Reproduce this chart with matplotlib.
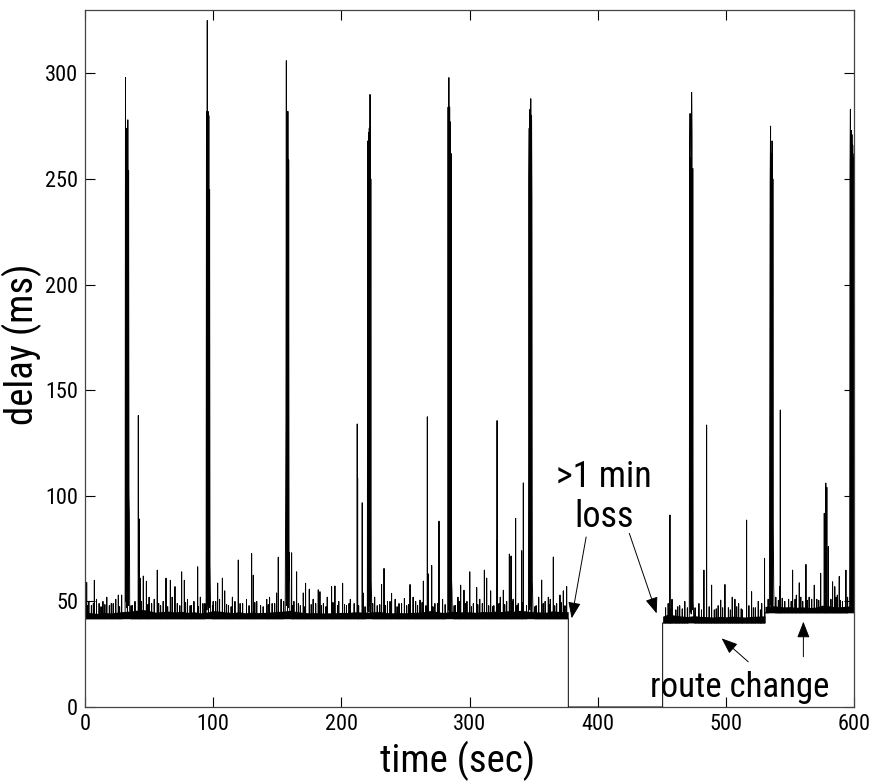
import matplotlib
matplotlib.use("Agg")
import matplotlib.pyplot as plt
import numpy as np

# ---------------- data ----------------
seg_start = [0.0, 450.7, 530.5]
seg_end = [377.1, 530.5, 600.0]
seg_base = [41.8, 39.8, 44.6]

# big periodic delay bursts
burst_start = [31.3, 94.5, 156.2, 220.3, 283.0, 346.0, 471.5, 534.0, 596.6]
burst_offsets = [0.0, 0.3, 0.6, 0.9, 1.2, 1.5, 1.8, 2.1, 2.4, 2.7, 3.0, 3.3, 3.6]
burst_heights = [
    [42, 298, 50, 274, 47, 262, 45, 278, 48, 254, 101, 91, 42],
    [42, 282, 46, 325, 48, 282, 44, 280, 47, 245, 68, 55, 42],
    [42, 91, 136, 306, 48, 282, 45, 282, 47, 259, 60, 73, 42],
    [42, 268, 46, 272, 45, 274, 48, 290, 44, 250, 60, 50, 42],
    [42, 284, 46, 298, 44, 284, 47, 277, 45, 262, 60, 55, 42],
    [42, 250, 274, 46, 283, 48, 288, 45, 280, 240, 60, 52, 42],
    [40, 255, 281, 45, 260, 44, 291, 270, 46, 255, 50, 45, 40],
    [45, 147, 250, 275, 48, 262, 46, 268, 47, 250, 87, 60, 45],
    [45, 250, 283, 46, 273, 48, 271, 45, 266, 46, 260, 47, 262],
]

# isolated delay spikes
spike_t = [1.3, 7.3, 26.0, 28.6, 41.6, 42.4, 43.0, 45.5, 47.9, 56.4, 63.2, 66.6,
           70.2, 75.4, 77.5, 87.9, 103.5, 107.2, 109.0, 119.6, 130.0, 131.3,
           141.8, 149.5, 150.8, 161.2, 165.1, 170.3, 172.1, 175.0, 182.0, 183.3,
           192.4, 195.0, 201.0, 212.4, 212.7, 216.3, 217.0, 231.4, 233.3, 239.2,
           249.2, 253.6, 261.4, 264.0, 267.1, 268.0, 270.5, 276.2, 293.1, 295.7,
           300.2, 305.6, 311.6, 313.4, 316.5, 321.5, 321.8, 326.4, 331.1, 332.4,
           336.0, 340.7, 342.0, 356.3, 361.5, 365.4, 370.6, 373.2, 375.8,
           456.4, 458.0, 468.0, 482.9, 485.0, 488.9, 496.0, 499.3, 505.0, 507.1,
           516.2, 520.1, 525.3, 528.0, 530.2,
           542.2, 542.5, 552.1, 557.3, 562.5, 569.0, 574.0, 576.8, 578.0, 578.8,
           580.0, 583.3, 585.0, 588.5, 593.7]
spike_h = [59, 60, 53, 53, 138, 89, 61, 62, 59.5, 64.8, 61, 60,
           57, 64, 60, 66.4, 58.7, 61, 55, 69.6, 72.7, 62.4,
           51, 54, 70.9, 73, 64, 54, 58.6, 55.8, 55.5, 54.6,
           57, 57.3, 58.6, 134, 108.5, 96.7, 54, 58, 65.6, 53.8,
           51.4, 58, 50.6, 59.6, 137.4, 63, 67, 88, 57.7, 55.3,
           64, 56.6, 64.8, 61, 55, 135.6, 79, 55.3, 72.4, 71.5,
           89.3, 74, 106.1, 60.1, 52, 71, 53, 55, 57,
           90.9, 51, 50, 64.8, 133.5, 57.7, 50.6, 58, 52, 51,
           88.5, 54.6, 50, 49, 70.4,
           57, 140.6, 64.8, 58.8, 67.5, 57.7, 63.3, 91.7, 106, 104,
           76, 59.3, 57, 61.8, 64.8]

# small jitter spikes in the noise floor
jit_t = [3, 5, 9, 11, 14, 17, 19, 22, 24, 37, 39, 50, 52, 54, 59, 61, 68, 72,
         80, 83, 85, 90, 92, 100, 105, 112, 115, 117, 123, 126, 134, 137, 144,
         146, 153, 163, 168, 178, 186, 189, 198, 204, 207, 210, 226, 228, 236,
         242, 245, 251, 256, 258, 273, 279, 289, 291, 298, 303, 308, 319, 324,
         329, 334, 338, 352, 354, 359, 363, 368,
         453, 455, 461, 464, 476, 479, 491, 494, 502, 510, 513, 518, 523,
         539, 546, 549, 555, 560, 565, 571, 587, 591, 595,
         2, 6.5, 12.5, 15.5, 20.5, 27, 36, 44, 49, 57.5, 64.5, 74, 78.5, 82,
         88.5, 93.5, 99.5, 102, 110.5, 114, 121, 128, 132.5, 139, 143, 148,
         155, 162, 166.5, 171, 176.5, 180, 184.5, 188, 193.5, 197, 202.5,
         206, 213.5, 218.5, 224.5, 230, 234.5, 238, 243.5, 247, 252.5, 259.5,
         263, 266, 271.5, 275, 281, 288, 292, 297, 301.5, 306.5, 310, 315,
         318, 323, 327.5, 333, 337, 341, 344.5, 351, 357.5, 362, 366.5, 371.5,
         374.5, 457, 462.5, 466, 470, 481, 487, 492.5, 497.5, 503.5, 508.5,
         512, 521.5, 527, 533, 541, 544, 551, 554, 558.5, 563.5, 567, 572.5,
         582, 586, 589.5, 592.5]
jit_h = [50, 48, 51, 49, 50, 52, 48, 49, 51, 48, 50, 52, 49, 51, 48, 50, 52, 49,
         51, 48, 50, 52, 49, 50, 51, 48, 52, 50, 49, 51, 50, 48, 52,
         49, 51, 50, 48, 51, 49, 52, 50, 48, 51, 49, 52, 48, 50,
         51, 49, 48, 52, 50, 49, 51, 48, 52, 50, 49, 51, 48, 52,
         50, 51, 49, 48, 52, 50, 51, 49,
         47, 49, 46, 48, 47, 49, 46, 48, 47, 49, 46, 48, 47,
         52, 50, 51, 53, 50, 52, 51, 53, 50, 52,
         48, 49, 47.5, 48.5, 49, 47.5, 48, 50, 48.5, 49, 47.5, 48, 49.5, 48,
         47.5, 49, 48, 50, 48.5, 47.5, 49, 48, 49.5, 47.5, 48.5, 49,
         50, 48, 49, 47.5, 48.5, 49, 48, 47.5, 49.5, 48, 48.5,
         49, 48, 47.5, 49, 48.5, 48, 50, 47.5, 49, 48.5, 48,
         49.5, 48, 47.5, 49, 48.5, 48, 50, 49, 47.5, 48.5, 49, 48,
         47.5, 49, 48.5, 50, 48, 49.5, 48, 47.5, 49, 48.5, 48, 49.5,
         48, 46, 47.5, 46.5, 47, 46, 47.5, 46.5, 47, 46, 47.5,
         46.5, 47, 46, 51, 50.5, 51.5, 50, 51, 52, 50.5, 51,
         50.5, 51, 52, 50.5]

# dense noise band (top of the solid black floor)
bandA_t = [0, 5, 10, 15, 20, 25, 30, 35, 40, 45, 50, 55, 60, 65, 70, 75, 80, 85,
           90, 95, 100, 105, 110, 115, 120, 125, 130, 135, 140, 145, 150, 155,
           160, 165, 170, 175, 180, 185, 190, 195, 200, 205, 210, 215, 220, 225,
           230, 235, 240, 245, 250, 255, 260, 265, 270, 275, 280, 285, 290, 295,
           300, 305, 310, 315, 320, 325, 330, 335, 340, 345, 350, 355, 360, 365,
           370, 377]
bandA_top = [45.0, 44.6, 44.3, 44.8, 44.5, 44.9, 45.2, 45.4, 45.8, 46.2, 45.6, 44.9,
             45.2, 45.4, 45.0, 45.3, 44.8, 45.1, 44.6, 44.9, 45.6, 45.4, 45.0,
             44.7, 45.1, 44.6, 44.9, 44.7, 44.8, 45.0, 45.2, 45.4, 45.8, 45.2,
             44.8, 44.6, 44.7, 44.5, 44.6, 44.6, 44.8, 44.7, 45.1, 45.0, 44.9,
             45.1, 45.2, 44.7, 44.6, 44.7, 44.6, 44.8, 44.9, 45.2, 45.7, 45.1,
             44.7, 45.3, 45.2, 45.0, 45.1, 44.8, 45.2, 45.1, 45.4, 45.2, 45.6,
             45.4, 45.8, 45.4, 45.1, 45.0, 44.9, 45.6, 45.2, 45.1]
bandB_t = [450.7, 455, 460, 465, 470, 475, 480, 485, 490, 495, 500, 505, 510,
           515, 520, 525, 530.5]
bandB_top = [43.0, 44.0, 43.5, 43.1, 42.8, 43.3, 42.9, 42.8, 42.6, 42.9, 42.7,
             43.0, 42.8, 42.6, 42.9, 43.0, 43.2]
bandC_t = [530.5, 535, 540, 545, 550, 555, 560, 565, 570, 575, 580, 585, 590,
           595, 600]
bandC_top = [47.6, 48.0, 47.8, 47.4, 47.5, 47.2, 47.4, 47.1, 47.3, 48.2, 48.0,
             47.4, 47.5, 47.8, 47.6]

x_ticks = [0, 100, 200, 300, 400, 500, 600]
y_ticks = [0, 50, 100, 150, 200, 250, 300]

# ---------------- build the line ----------------
xs, ys = [], []
for i, (s, e, b) in enumerate(zip(seg_start, seg_end, seg_base)):
    events = []
    for t, h in zip(spike_t, spike_h):
        if s <= t < e:
            events.append((t, [(t - 0.06, b), (t, h), (t + 0.06, b)]))
    for t, h in zip(jit_t, jit_h):
        if s <= t < e:
            events.append((t, [(t - 0.05, b), (t, h), (t + 0.05, b)]))
    for t0, hs in zip(burst_start, burst_heights):
        if s <= t0 < e:
            events.append((t0, [(t0 + o, v) for o, v in zip(burst_offsets, hs)]))
    events.sort(key=lambda q: q[0])
    xs.append(s); ys.append(b)
    for _, pts in events:
        for px, py in pts:
            xs.append(px); ys.append(py)
    xs.append(e); ys.append(b)
    if i == 0:
        xs += [e, seg_start[1]]
        ys += [0.0, 0.0]

FONT = ["Roboto Condensed", "Liberation Sans", "DejaVu Sans"]
plt.rcParams["font.family"] = FONT

fig = plt.figure(figsize=(8.71, 7.82), dpi=100)
ax = fig.add_axes([85 / 871, 1 - 707 / 782, 769 / 871, 697 / 782])

ax.fill_between(bandA_t, seg_base[0], bandA_top, color="black", lw=0)
ax.fill_between(bandB_t, seg_base[1], bandB_top, color="black", lw=0)
ax.fill_between(bandC_t, seg_base[2], bandC_top, color="black", lw=0)
ax.plot(xs, ys, color="black", lw=0.7)

ax.set_xlim(0, 600)
ax.set_ylim(0, 330)
ax.set_xticks(x_ticks)
ax.set_yticks(y_ticks)
ax.tick_params(direction="in", length=7, width=0.8, top=True, right=True,
               labelsize=16, pad=5, colors="black")
for sp in ax.spines.values():
    sp.set_color("#444444")
    sp.set_linewidth(0.9)

ax.set_xlabel("time (sec)", fontsize=28)
ax.xaxis.set_label_coords(0.484, -0.048)
ax.set_ylabel("delay (ms)", fontsize=28)
ax.yaxis.set_label_coords(-0.056, 0.52)

ax.text(405, 109, ">1 min", fontsize=26, ha="center", va="center")
ax.text(405, 90, "loss", fontsize=26, ha="center", va="center")
ax.text(511, 9, "route change", fontsize=25, ha="center", va="center")

arr = dict(arrowstyle="-|>,head_length=0.9,head_width=0.35", color="black",
           lw=0.7, shrinkA=0, shrinkB=0, mutation_scale=11)
ax.annotate("", xy=(379.7, 42), xytext=(391, 80.5), arrowprops=arr)
ax.annotate("", xy=(446, 44.3), xytext=(424.7, 82.2), arrowprops=arr)
ax.annotate("", xy=(496.7, 32.5), xytext=(517.5, 21.4), arrowprops=arr)
ax.annotate("", xy=(560.5, 40.4), xytext=(560.5, 23.8), arrowprops=arr)

fig.savefig("out.png", dpi=100)
